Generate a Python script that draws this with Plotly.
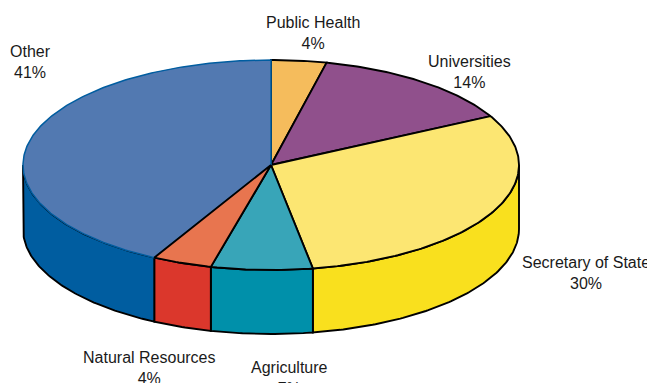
import numpy as np
import plotly.graph_objects as go

# Data, clockwise from 12 o'clock
categories = ["Public Health", "Universities", "Secretary of State", "Agriculture", "Natural Resources", "Other"]
shown_pct = [4, 14, 30, 7, 4, 41]
slice_share = [3.6, 13.7, 30.0, 6.6, 3.9, 42.2]

# Styles
top_colors = ["#F5BC5C", "#90508C", "#FCE672", "#38A5B8", "#E8754F", "#5279B1"]
side_colors = ["#C99A4A", "#6F3D6C", "#F9E01E", "#0090AA", "#DB372C", "#005DA0"]
edge_colors = ["#000000"] * 5 + ["#005DA0"]

# Geometry of the drawing, in page pixels
W, H = 647, 383
CX, CY, RX, RY, DEPTH = 271.0, 165.0, 248.0, 105.0, 64.0
LABEL_POS = [(313, 33), (469, 72), (586, 273), (289, 378), (149, 368), (30, 62)]
DRAW_ORDER = [0, 1, 2, 3, 5, 4]
LW = 1.9

edges = np.concatenate([[0.0], np.cumsum(slice_share)]) / sum(slice_share) * 2 * np.pi


def arc(a, b, dy=0.0):
    t = np.linspace(a, b, max(int((b - a) * 80), 2))
    return CX + RX * np.sin(t), CY - RY * np.cos(t) + dy


fig = go.Figure()

# Side walls: only the front half of the rim is visible
for i in range(len(categories)):
    a, b = max(edges[i], np.pi / 2), min(edges[i + 1], 3 * np.pi / 2)
    if b <= a:
        continue
    xt, yt = arc(a, b)
    xb, yb = arc(a, b, DEPTH)
    fig.add_trace(go.Scatter(
        x=np.r_[xt, xb[::-1], xt[0]], y=np.r_[yt, yb[::-1], yt[0]],
        mode="lines", fill="toself", fillcolor=side_colors[i],
        line=dict(color="#000000", width=LW), hoverinfo="skip", showlegend=False))

# Top face
for i in DRAW_ORDER:
    xa, ya = arc(edges[i], edges[i + 1])
    fig.add_trace(go.Scatter(
        x=np.r_[CX, xa, CX], y=np.r_[CY, ya, CY],
        mode="lines", fill="toself", fillcolor=top_colors[i],
        line=dict(color=edge_colors[i], width=LW if i != 5 else 1.5),
        hoverinfo="text", text=f"{categories[i]} {shown_pct[i]}%", showlegend=False))

# Labels
for name, pct, (lx, ly) in zip(categories, shown_pct, LABEL_POS):
    fig.add_annotation(x=lx, y=ly, text=f"{name}<br>{pct}%", showarrow=False,
                       xanchor="center", yanchor="middle", align="center",
                       font=dict(size=16, color="#1a1a1a"))

fig.update_layout(
    width=W, height=H, margin=dict(l=0, r=0, t=0, b=0),
    paper_bgcolor="white", plot_bgcolor="white",
    font=dict(family="Liberation Sans, Arial, sans-serif"),
    xaxis=dict(range=[0, W], visible=False, fixedrange=True),
    yaxis=dict(range=[H, 0], visible=False, fixedrange=True),
)
fig.write_html("out.html", config=dict(displayModeBar=False),
               post_script="document.body.style.margin='0';")
